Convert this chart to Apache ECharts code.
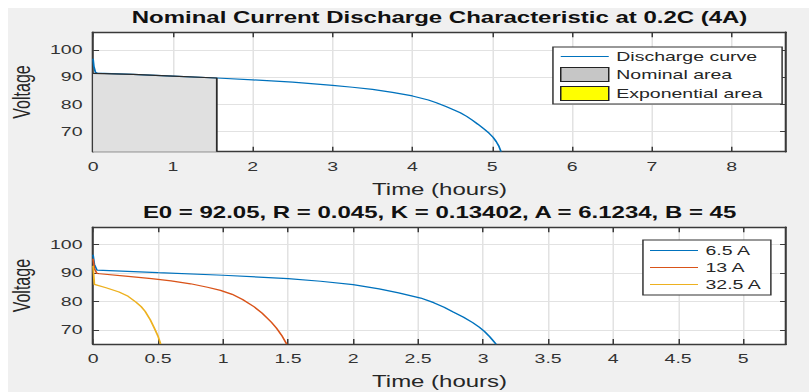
<!DOCTYPE html>
<html>
<head>
<meta charset="utf-8">
<script src="https://cdn.jsdelivr.net/npm/echarts@6/dist/echarts.min.js"></script>
<style>
html, body { margin: 0; padding: 0; background: #fff; }
/* the reference picture is widened about 1.5x, so the chart is drawn narrow and stretched */
#wrap { position: absolute; left: 8px; top: 8px; width: 801px; height: 384px; overflow: hidden; background: #f0f0f0; }
#main { width: 534px; height: 384px; transform: scaleX(1.5); transform-origin: 0 0; }
</style>
</head>
<body>
<div id="wrap"><div id="main"></div></div>
<script>
// top plot: nominal discharge at 0.2C
var topTime = [0, 0.01, 0.03, 0.05, 0.5, 1.0, 1.55, 2.0, 2.5, 3.0, 3.25, 3.5, 3.75, 4.0, 4.2, 4.3, 4.42, 4.5, 4.6, 4.68, 4.75, 4.82, 4.9, 4.96, 5.01, 5.05, 5.08, 5.11];
var topVolt = [96.8, 94.0, 91.8, 91.5, 91.0, 90.4, 89.7, 89.0, 88.2, 87.0, 86.3, 85.5, 84.4, 83.1, 81.6, 80.6, 79.2, 78.2, 76.9, 75.6, 74.2, 72.7, 70.9, 69.4, 67.9, 66.3, 64.8, 62.6];
var nomTime = [0, 0.5, 1.0, 1.55, 1.55];
var nomVolt = [91.4, 91.0, 90.4, 89.7, 62.6];
var expTime = [];
var expVolt = [];

// bottom plot: three currents
var blueTime = [0, 0.01, 0.03, 0.5, 1.0, 1.5, 1.75, 2.0, 2.2, 2.35, 2.52, 2.62, 2.7, 2.77, 2.85, 2.92, 2.97, 3.01, 3.05, 3.08, 3.1];
var blueVolt = [96.4, 93.0, 91.0, 90.1, 89.2, 88.0, 87.1, 85.9, 84.4, 83.0, 81.2, 79.6, 78.0, 76.3, 74.5, 72.6, 71.0, 69.5, 67.7, 66.1, 65.0];
var redTime = [0, 0.01, 0.03, 0.25, 0.45, 0.6, 0.75, 0.88, 0.98, 1.07, 1.15, 1.24, 1.3, 1.37, 1.41, 1.45, 1.49];
var redVolt = [95.0, 91.5, 89.8, 88.9, 88.0, 87.2, 86.2, 85.0, 83.9, 82.5, 80.7, 78.1, 75.9, 72.8, 70.7, 68.2, 65.0];
var yellowTime = [0, 0.01, 0.1, 0.2, 0.27, 0.33, 0.37, 0.4, 0.44, 0.47, 0.5, 0.52];
var yellowVolt = [92.5, 86.0, 84.8, 83.3, 81.8, 79.8, 78.2, 76.6, 73.6, 70.8, 67.8, 65.1];

// tick labels
var topXTicks = [0, 1, 2, 3, 4, 5, 6, 7, 8];
var botXTicks = [0, 0.5, 1, 1.5, 2, 2.5, 3, 3.5, 4, 4.5, 5];
var yTicks = [70, 80, 90, 100];

var titles = [
  'Nominal Current Discharge Characteristic at 0.2C (4A)',
  'E0 = 92.05, R = 0.045, K = 0.13402, A = 6.1234, B = 45'
];

function pairs(xs, ys) {
  return xs.map(function (x, i) { return [x, ys[i]]; });
}

var FONT = '"Liberation Sans", Arial, sans-serif';
var AXIS_COLOR = '#3a3a3a';
var LINE_ICON = 'path://M0 0H32V1.2H0Z';

function mainX(grid, min, max, ticks) {
  return {
    type: 'value', gridIndex: grid, min: min, max: max, position: 'bottom',
    name: 'Time (hours)', nameLocation: 'middle', nameGap: 30,
    nameTextStyle: { fontFamily: FONT, fontSize: 16, color: '#262626' },
    axisLine: { show: true, onZero: false, lineStyle: { color: AXIS_COLOR, width: 1.4 } },
    axisTick: { inside: true, length: 5, customValues: ticks, lineStyle: { color: AXIS_COLOR } },
    axisLabel: { customValues: ticks, margin: 8, fontFamily: FONT, fontSize: 13, color: '#333' },
    splitLine: { show: true, lineStyle: { color: '#e2e2e2', width: 1 } }
  };
}
function sideX(grid, min, max, ticks) {
  return {
    type: 'value', gridIndex: grid, min: min, max: max, position: 'top',
    axisLine: { show: true, onZero: false, lineStyle: { color: AXIS_COLOR, width: 1.4 } },
    axisTick: { inside: true, length: 5, customValues: ticks, lineStyle: { color: AXIS_COLOR } },
    axisLabel: { show: false },
    splitLine: { show: false }
  };
}
function mainY(grid, min, max) {
  return {
    type: 'value', gridIndex: grid, min: min, max: max, position: 'left',
    name: 'Voltage', nameLocation: 'middle', nameGap: 35, nameRotate: 90,
    nameTextStyle: { fontFamily: FONT, fontSize: 16, color: '#262626' },
    axisLine: { show: true, onZero: false, lineStyle: { color: AXIS_COLOR, width: 1.4 } },
    axisTick: { inside: true, length: 4, customValues: yTicks, lineStyle: { color: AXIS_COLOR } },
    axisLabel: { customValues: yTicks, margin: 7, fontFamily: FONT, fontSize: 13, color: '#333' },
    splitLine: { show: true, lineStyle: { color: '#e2e2e2', width: 1 } }
  };
}
function sideY(grid, min, max) {
  return {
    type: 'value', gridIndex: grid, min: min, max: max, position: 'right',
    axisLine: { show: true, onZero: false, lineStyle: { color: AXIS_COLOR, width: 1.4 } },
    axisTick: { inside: true, length: 4, customValues: yTicks, lineStyle: { color: AXIS_COLOR } },
    axisLabel: { show: false },
    splitLine: { show: false }
  };
}
function curve(name, xi, yi, data, color) {
  return {
    name: name, type: 'line', xAxisIndex: xi, yAxisIndex: yi, data: data,
    symbol: 'none', showSymbol: false, animation: false,
    lineStyle: { color: color, width: 1.2 }, itemStyle: { color: color }
  };
}

var chart = echarts.init(document.getElementById('main'), null, { renderer: 'svg' });

var nomSeries = curve('Nominal area', 0, 0, pairs(nomTime, nomVolt), '#2b2b2b');
nomSeries.areaStyle = { color: '#e0e0e0', opacity: 1, origin: 'start' };
nomSeries.z = 3;
var expSeries = curve('Exponential area', 0, 0, pairs(expTime, expVolt), '#2b2b2b');
expSeries.areaStyle = { color: '#ffff00', opacity: 1, origin: 'start' };

var legendText = { fontFamily: FONT, fontSize: 13, color: '#262626' };

chart.setOption({
  backgroundColor: '#f0f0f0',
  animation: false,
  title: [
    { text: titles[0], left: 287.7, top: 2, textAlign: 'center', padding: 0,
      textStyle: { fontFamily: FONT, fontSize: 16, fontWeight: 'bold', color: '#111' } },
    { text: titles[1], left: 287.7, top: 197, textAlign: 'center', padding: 0,
      textStyle: { fontFamily: FONT, fontSize: 16, fontWeight: 'bold', color: '#111' } }
  ],
  grid: [
    { left: 56.7, top: 24.3, width: 462, height: 119.4, show: true, backgroundColor: '#fff', borderWidth: 0,
      containLabel: false, outerBoundsMode: 'none' },
    { left: 56.7, top: 219.3, width: 462, height: 116.7, show: true, backgroundColor: '#fff', borderWidth: 0,
      containLabel: false, outerBoundsMode: 'none' }
  ],
  xAxis: [
    mainX(0, 0, 8.68, topXTicks), sideX(0, 0, 8.68, topXTicks),
    mainX(1, 0, 5.33, botXTicks), sideX(1, 0, 5.33, botXTicks)
  ],
  yAxis: [
    mainY(0, 62.6, 106.5), sideY(0, 62.6, 106.5),
    mainY(1, 65.1, 106), sideY(1, 65.1, 106)
  ],
  legend: [
    {
      orient: 'vertical', left: 363.3, top: 39, selectedMode: false,
      itemWidth: 32, itemHeight: 14, itemGap: 4, padding: [3, 13, 3, 4.7],
      backgroundColor: '#fff', borderColor: '#333', borderWidth: 1,
      textStyle: legendText,
      data: [
        { name: 'Discharge curve', icon: LINE_ICON, itemStyle: { color: '#0072BD', borderWidth: 0 } },
        { name: 'Nominal area', icon: 'rect', itemStyle: { color: '#c6c6c6', borderColor: '#222', borderWidth: 1 } },
        { name: 'Exponential area', icon: 'rect', itemStyle: { color: '#ffff00', borderColor: '#222', borderWidth: 1 } }
      ]
    },
    {
      orient: 'vertical', left: 423.3, top: 232, selectedMode: false,
      itemWidth: 32, itemHeight: 14, itemGap: 4, padding: [4, 6, 4, 4.7],
      backgroundColor: '#fff', borderColor: '#333', borderWidth: 1,
      textStyle: legendText,
      data: [
        { name: '6.5 A', icon: LINE_ICON, itemStyle: { color: '#0072BD', borderWidth: 0 } },
        { name: '13 A', icon: LINE_ICON, itemStyle: { color: '#D95319', borderWidth: 0 } },
        { name: '32.5 A', icon: LINE_ICON, itemStyle: { color: '#EDB120', borderWidth: 0 } }
      ]
    }
  ],
  series: [
    curve('Discharge curve', 0, 0, pairs(topTime, topVolt), '#0072BD'),
    nomSeries,
    expSeries,
    curve('6.5 A', 2, 2, pairs(blueTime, blueVolt), '#0072BD'),
    curve('13 A', 2, 2, pairs(redTime, redVolt), '#D95319'),
    curve('32.5 A', 2, 2, pairs(yellowTime, yellowVolt), '#EDB120')
  ]
});
</script>
</body>
</html>
